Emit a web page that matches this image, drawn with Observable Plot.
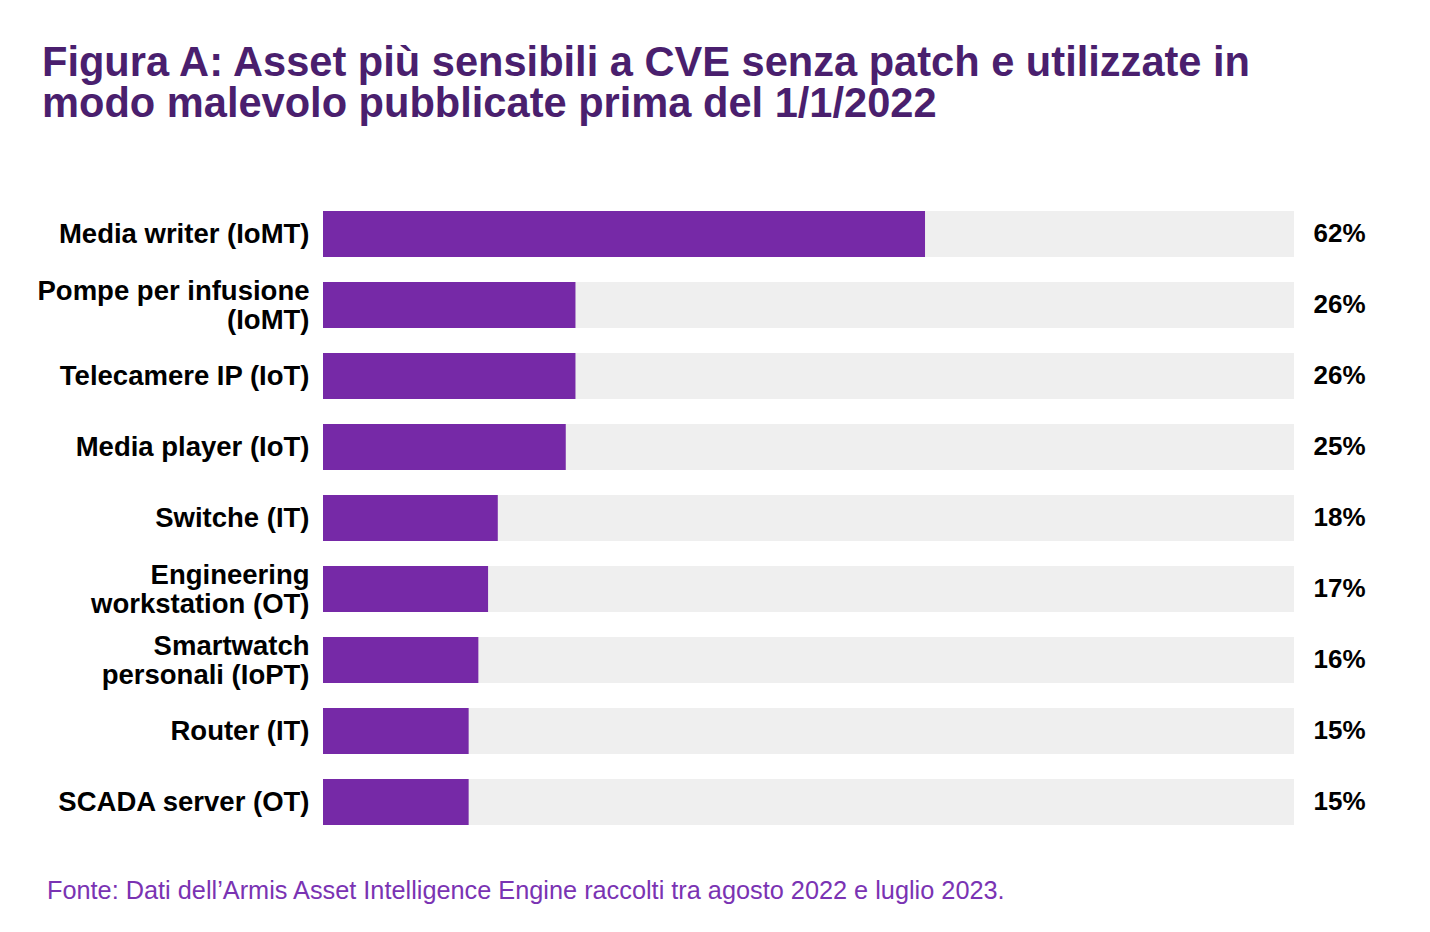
<!DOCTYPE html>
<html>
<head>
<meta charset="utf-8">
<script src="https://cdn.jsdelivr.net/npm/d3@7"></script>
<script src="https://cdn.jsdelivr.net/npm/@observablehq/plot@0.6"></script>
<style>
  html, body { margin: 0; padding: 0; background: #fff; }
  body { width: 1430px; height: 932px; overflow: hidden; font-family: "Liberation Sans", Arial, sans-serif; }
  #title { margin: 0; padding: 41px 0 0 42px; height: 140px; box-sizing: border-box; font-size: 41.6px; line-height: 41px; font-weight: bold; color: #4a1f6e; }
  #title div { white-space: nowrap; }
  #chart svg { display: block; }
  #caption { padding-left: 47px; font-size: 25.3px; line-height: 40px; color: #7a33b3; white-space: nowrap; }
</style>
</head>
<body>
<div id="title"><div>Figura A: Asset più sensibili a CVE senza patch e utilizzate in</div><div>modo malevolo pubblicate prima del 1/1/2022</div></div>
<div id="chart"></div>
<div id="caption">Fonte: Dati dell’Armis Asset Intelligence Engine raccolti tra agosto 2022 e luglio 2023.</div>
<script>
const categories = [
  "Media writer (IoMT)",
  "Pompe per infusione\n(IoMT)",
  "Telecamere IP (IoT)",
  "Media player (IoT)",
  "Switche (IT)",
  "Engineering\nworkstation (OT)",
  "Smartwatch\npersonali (IoPT)",
  "Router (IT)",
  "SCADA server (OT)"
];
const values = [62, 26, 26, 25, 18, 17, 16, 15, 15];
const maxValue = 100;

const data = categories.map((c, i) => ({category: c, value: values[i]}));

const chart = Plot.plot({
  width: 1430,
  height: 730,
  marginLeft: 323,
  marginRight: 136,
  marginTop: 46,
  marginBottom: 20,
  style: {fontFamily: '"Liberation Sans", Arial, sans-serif', background: "#fff"},
  x: {domain: [0, maxValue], axis: null},
  y: {domain: categories, padding: 0.352, label: null},
  marks: [
    Plot.barX(data, {y: "category", x1: 0, x2: maxValue, fill: "#efefef"}),
    Plot.barX(data, {y: "category", x1: 0, x2: "value", fill: "#7629a7"}),
    Plot.axisY({tickSize: 0, tickPadding: 14, fontSize: 27.5, fontWeight: "bold", fill: "#000", lineHeight: 1.02, label: null}),
    Plot.text(data, {y: "category", x: maxValue, text: d => d.value + "%", dx: 19, dy: -1, textAnchor: "start", fontSize: 26, fontWeight: "bold", fill: "#000"})
  ]
});
document.getElementById("chart").appendChild(chart);
</script>
</body>
</html>
